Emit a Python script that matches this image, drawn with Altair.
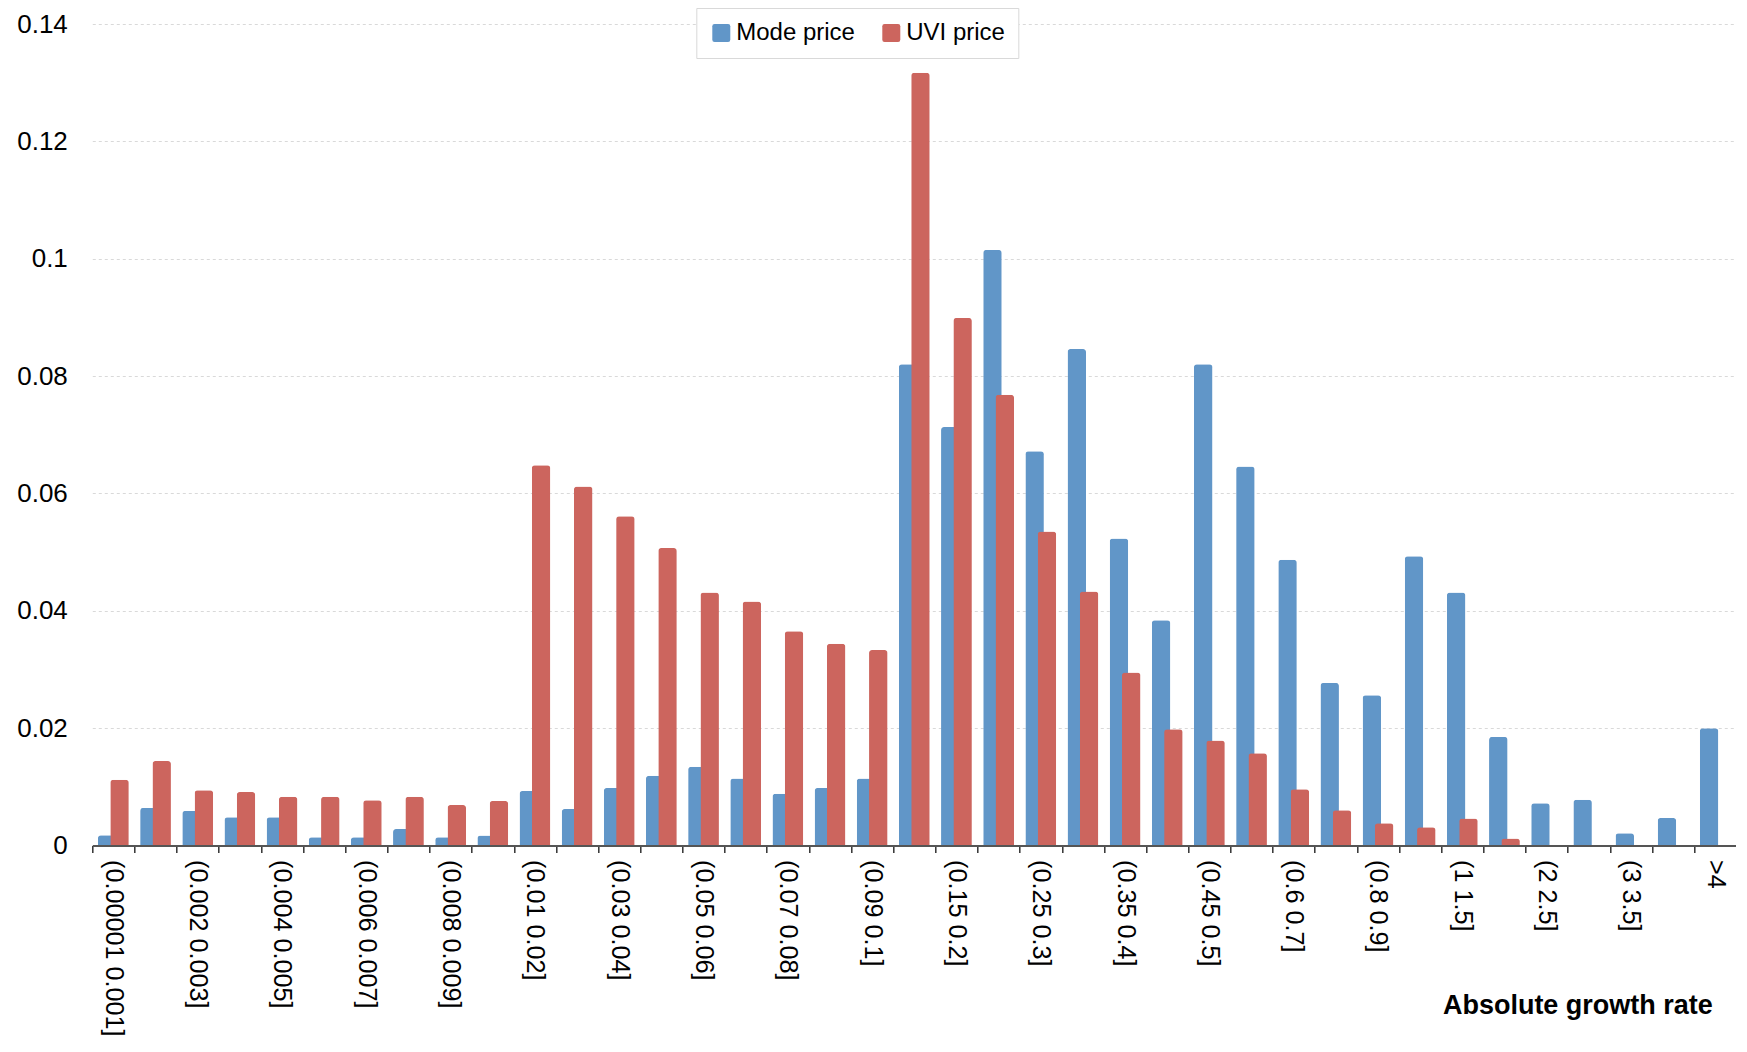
import json
import altair as alt
import pandas as pd

categories = [
    "(0.00001 0.001]", "(0.001 0.002]", "(0.002 0.003]", "(0.003 0.004]",
    "(0.004 0.005]", "(0.005 0.006]", "(0.006 0.007]", "(0.007 0.008]",
    "(0.008 0.009]", "(0.009 0.01]", "(0.01 0.02]", "(0.02 0.03]",
    "(0.03 0.04]", "(0.04 0.05]", "(0.05 0.06]", "(0.06 0.07]",
    "(0.07 0.08]", "(0.08 0.09]", "(0.09 0.1]", "(0.1 0.15]",
    "(0.15 0.2]", "(0.2 0.25]", "(0.25 0.3]", "(0.3 0.35]",
    "(0.35 0.4]", "(0.4 0.45]", "(0.45 0.5]", "(0.5 0.6]",
    "(0.6 0.7]", "(0.7 0.8]", "(0.8 0.9]", "(0.9 1]",
    "(1 1.5]", "(1.5 2]", "(2 2.5]", "(2.5 3]",
    "(3 3.5]", "(3.5 4]", ">4",
]

mode_price = [
    0.00175, 0.0064, 0.0059, 0.0048, 0.0048, 0.0014, 0.0014, 0.0028, 0.0014, 0.0017,
    0.0093, 0.0062, 0.0098, 0.0119, 0.0134, 0.0114, 0.0088, 0.0098, 0.0114, 0.0820,
    0.0713, 0.1015, 0.0672, 0.0846, 0.0523, 0.0384, 0.0820, 0.0646, 0.0487, 0.0277,
    0.0256, 0.0493, 0.0431, 0.0185, 0.0072, 0.0078, 0.0021, 0.0047, 0.0200,
]

uvi_price = [
    0.0112, 0.0144, 0.0094, 0.0091, 0.0083, 0.0083, 0.0077, 0.0083, 0.0069, 0.0076,
    0.0648, 0.0612, 0.0561, 0.0507, 0.0431, 0.0416, 0.0365, 0.0344, 0.0333, 0.1317,
    0.0899, 0.0768, 0.0535, 0.0433, 0.0295, 0.0198, 0.0179, 0.0157, 0.0096, 0.0060,
    0.0038, 0.0031, 0.0046, 0.0012, 0.0, 0.0, 0.0, 0.0, 0.0,
]

series_names = ["Mode price", "UVI price"]
series_colors = ["#6196C8", "#CC655E"]
y_ticks = [0, 0.02, 0.04, 0.06, 0.08, 0.1, 0.12, 0.14]

rows = []
for c, m, u in zip(categories, mode_price, uvi_price):
    rows.append({"category": c, "series": series_names[0], "value": m})
    rows.append({"category": c, "series": series_names[1], "value": u})
df = pd.DataFrame(rows)

labeled = categories[::2]
label_expr = "indexof(" + json.dumps(labeled) + ", datum.value) >= 0 ? datum.label : ''"

FONT = "Liberation Sans"
rounded_square = ("M-1,-0.75 Q-1,-1 -0.75,-1 L0.75,-1 Q1,-1 1,-0.75 L1,0.75 "
                  "Q1,1 0.75,1 L-0.75,1 Q-1,1 -1,0.75 Z")

x_enc = alt.X(
    "category:N",
    sort=categories,
    scale=alt.Scale(domain=categories, paddingInner=0, paddingOuter=0),
    axis=alt.Axis(
        title="Absolute growth rate",
        titleFont=FONT, titleFontSize=27, titleFontWeight="bold", titleColor="black",
        titleX=1620, titleY=160, titleAlign="right", titleBaseline="middle",
        labelAngle=90, labelAlign="left", labelBaseline="middle",
        labelFont=FONT, labelFontSize=25.2, labelColor="black",
        labelLimit=400, labelPadding=7, labelOverlap=False, labelFlush=False,
        labelExpr=label_expr,
        tickBand="extent", tickSize=7, tickColor="#333333", tickWidth=1.5,
        domainColor="#555555", domainWidth=2, grid=False, zindex=1,
    ),
)

y_enc = alt.Y(
    "value:Q",
    scale=alt.Scale(domain=[0, 0.14], nice=False, zero=True),
    axis=alt.Axis(
        title=None, values=y_ticks, format=".2~f",
        labelFont=FONT, labelFontSize=26, labelColor="black", labelPadding=25,
        ticks=False, domain=False,
        grid=True, gridColor="#d9d9d9", gridDash=[3, 3], gridWidth=1,
    ),
)

color_enc = alt.Color(
    "series:N",
    scale=alt.Scale(domain=series_names, range=series_colors),
    legend=alt.Legend(
        title=None, orient="none", direction="horizontal", columns=2,
        legendX=604, legendY=-16,
        labelFont=FONT, labelFontSize=24, labelColor="black", labelOffset=3,
        symbolType=rounded_square, symbolSize=324, symbolStrokeWidth=0,
        symbolOpacity=1, columnPadding=24, padding=13,
        strokeColor="#d9d9d9", fillColor="white",
    ),
)

base = alt.Chart(df).encode(x=x_enc, y=y_enc, color=color_enc)

blue_bars = base.transform_filter(alt.datum.series == series_names[0]).mark_bar(
    width=18.5, xOffset=-6.15, cornerRadiusTopLeft=3, cornerRadiusTopRight=3
)
red_bars = base.transform_filter(alt.datum.series == series_names[1]).mark_bar(
    width=18.5, xOffset=6.15, cornerRadiusTopLeft=3, cornerRadiusTopRight=3
)

chart = (
    alt.layer(blue_bars, red_bars)
    .properties(
        width=1644, height=821.5,
        autosize=alt.AutoSizeParams(type="none"),
        padding={"left": 84.3, "top": 16, "right": 0, "bottom": 192.5},
        background="white",
    )
    .configure_view(stroke=None)
)

chart.save("out.html", embed_options={"renderer": "svg", "actions": False})
